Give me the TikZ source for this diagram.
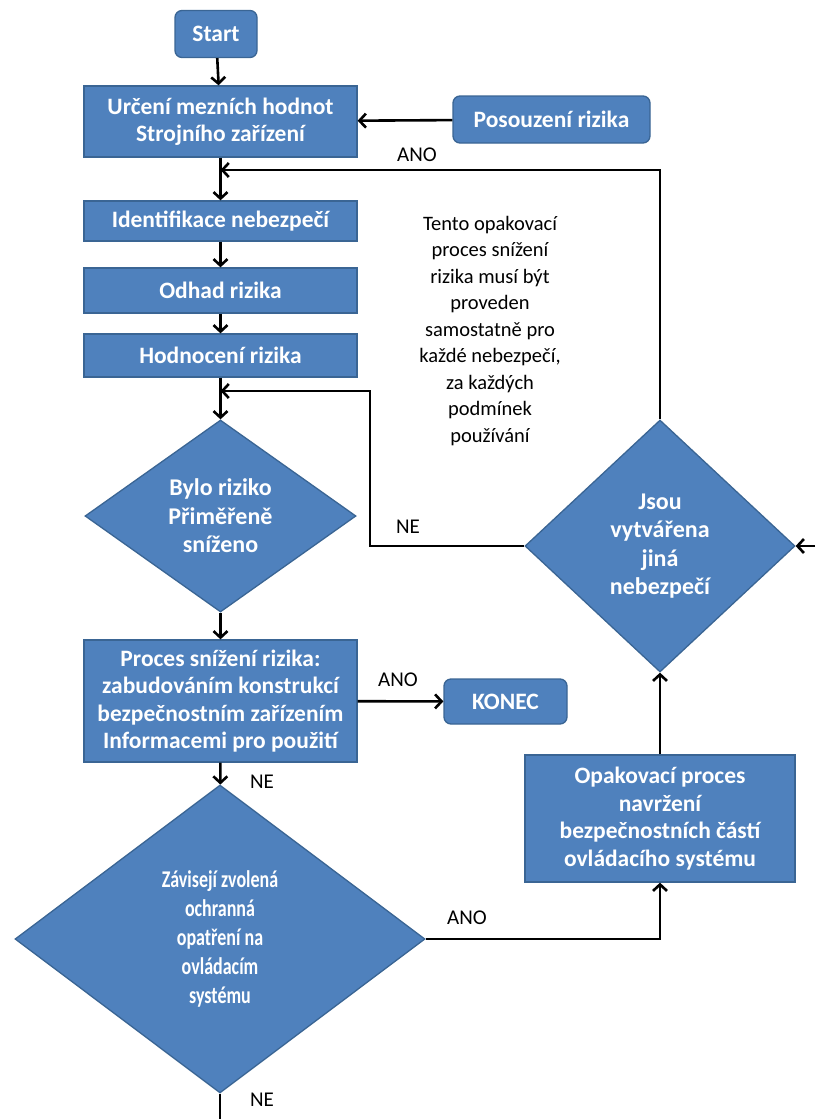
\documentclass[tikz,border=0pt]{standalone}
\usepackage{fontspec}
\setmainfont{Carlito}
\newfontfamily\narrowfont[FakeStretch=0.75]{Carlito}
\usetikzlibrary{shapes.geometric,arrows.meta}
\definecolor{boxblue}{HTML}{4F81BD}
\definecolor{boxborder}{HTML}{3A6594}
\begin{document}
\begin{tikzpicture}[x=1pt,y=-1pt,
  box/.style={draw=boxborder, line width=1.3pt, fill=boxblue, text=white,
    font=\bfseries\fontsize{23.5}{27.5}\selectfont, align=center, inner sep=0pt},
  rbox/.style={box, rounded corners=7pt},
  dia/.style={diamond, draw=boxborder, line width=1.3pt, fill=boxblue, inner sep=0pt},
  diatext/.style={text=white, font=\bfseries\fontsize{24}{28.5}\selectfont, align=center},
  flow/.style={line width=2.6pt, -{Straight Barb[length=6.5pt,width=14pt,line width=2.6pt]}},
  plain/.style={line width=2.6pt},
  lbl/.style={font=\fontsize{21}{24}\selectfont, inner sep=0pt}]
\useasboundingbox (0,0) rectangle (815,1119);

% boxes
\node[rbox, minimum width=82, minimum height=47] (start) at (216,34) {Start};
\node[box, minimum width=273, minimum height=71] (b1) at (220.5,121.5) {Určení mezních hodnot\\Strojního zařízení};
\node[rbox, minimum width=197, minimum height=47] (risk) at (551.5,119.5) {Posouzení rizika};
\node[box, minimum width=273, minimum height=40] (b2) at (220.5,221) {Identifikace nebezpečí};
\node[box, minimum width=273, minimum height=45] (b3) at (220.5,290.5) {Odhad rizika};
\node[box, minimum width=273, minimum height=43] (b4) at (220.5,355.5) {Hodnocení rizika};
\node[box, minimum width=273, minimum height=122] (b5) at (220.5,701) {Proces snížení rizika:\\zabudováním konstrukcí\\bezpečnostním zařízením\\Informacemi pro použití};
\node[rbox, minimum width=123, minimum height=45] (konec) at (505.5,701.5) {KONEC};
\node[box, minimum width=270, minimum height=127] (b6) at (660,818.5) {Opakovací proces\\navržení\\bezpečnostních částí\\ovládacího systému};

% decisions
\node[dia, minimum width=271, minimum height=192] (d1) at (220.5,516) {};
\node[diatext] (d1t) at (d1) {Bylo riziko\\Přiměřeně\\sníženo};
\node[dia, minimum width=270, minimum height=252] (d3) at (660,546) {};
\node[diatext] (d3t) at (d3) {Jsou\\vytvářena\\jiná\\nebezpečí};
\node[dia, minimum width=410, minimum height=308] (d2) at (220,939) {};
\node[diatext, font=\narrowfont\bfseries\fontsize{24}{29}\selectfont] (d2t) at (d2) {Závisejí zvolená\\ochranná\\opatření na\\ovládacím\\systému};

% note
\node[font=\fontsize{20.5}{26.5}\selectfont, align=center] (note) at (490,331)
  {Tento opakovací\\proces snížení\\rizika musí být\\proveden\\samostatně pro\\každé nebezpečí,\\za každých\\podmínek\\používání};

% junction points on the main line
\coordinate (j1) at (220.5,170);
\coordinate (j2) at (220.5,391);
\coordinate (c2) at (370,391);
\coordinate (in3) at (815,546);
\coordinate (out2) at (220,1119);

% connectors
\draw[flow] (start) -- (b1);
\draw[flow] (risk) -- (b1);
\draw[flow] (b1) -- (b2);
\draw[flow] (b2) -- (b3);
\draw[flow] (b3) -- (b4);
\draw[flow] (b4) -- (d1);
\draw[flow] (d1) -- (b5);
\draw[flow] (b5) -- (konec);
\draw[flow] (b5) -- (d2);
\draw[plain] (d2.south) -- (out2);
\draw[flow] (d2.east) -| (b6.south);
\draw[flow] (b6) -- (d3.south);
\draw[flow] (in3) -- (d3.east);
\draw[flow] (d3.north) |- (j1);
\draw[flow] (d3.west) -| (c2) -- (j2);

% labels
\node[lbl] (l1) at (417,155) {ANO};
\node[lbl] (l2) at (408,527) {NE};
\node[lbl] (l3) at (398,680) {ANO};
\node[lbl] (l4) at (262,782) {NE};
\node[lbl] (l5) at (467,918) {ANO};
\node[lbl] (l6) at (262,1100) {NE};
\end{tikzpicture}
\end{document}
